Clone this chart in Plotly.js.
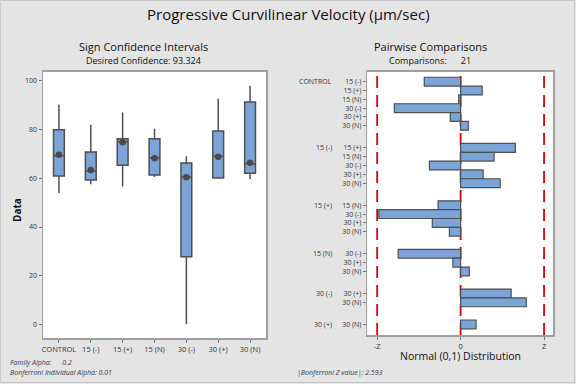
<!DOCTYPE html>
<html>
<head>
<meta charset="utf-8">
<script src="https://cdn.plot.ly/plotly-3.0.1.min.js"></script>
<style>
html,body{margin:0;padding:0;background:#e4e4e4;}
#chart{width:576px;height:384px;}
</style>
</head>
<body>
<div id="chart"></div>
<script>
// ---- Left panel: sign confidence intervals ----
const groups = ["CONTROL", "15 (-)", "15 (+)", "15 (N)", "30 (-)", "30 (+)", "30 (N)"];
const whiskerLow  = [53.9, 57.6, 56.6, 60.5, 0.0, 60.1, 59.7];
const ciLow       = [61.0, 59.3, 65.4, 61.4, 27.8, 60.1, 62.1];
const medianLine  = [69.3, 63.0, 75.0, 68.4, 60.5, 69.1, 66.0];
const ciHigh      = [80.0, 70.8, 76.3, 76.3, 66.3, 79.4, 91.4];
const whiskerHigh = [90.2, 82.0, 87.0, 80.4, 69.1, 92.7, 98.0];
const centerDot   = [69.7, 63.4, 74.8, 68.2, 60.4, 68.9, 66.4];

// ---- Right panel: pairwise comparisons ----
const pairGroups = ["CONTROL", "15 (-)", "15 (+)", "15 (N)", "30 (-)", "30 (+)"];
const pairTargets = [
  ["15 (-)", "15 (+)", "15 (N)", "30 (-)", "30 (+)", "30 (N)"],
  ["15 (+)", "15 (N)", "30 (-)", "30 (+)", "30 (N)"],
  ["15 (N)", "30 (-)", "30 (+)", "30 (N)"],
  ["30 (-)", "30 (+)", "30 (N)"],
  ["30 (+)", "30 (N)"],
  ["30 (N)"]
];
const pairValues = [
  [-1.13, 0.67, -0.06, -2.06, -0.32, 0.24],
  [1.70, 1.04, -0.97, 0.70, 1.23],
  [-0.70, -2.54, -0.88, -0.35],
  [-1.94, -0.24, 0.27],
  [1.57, 2.04],
  [0.48]
];
const zValue = 2.593;

// Build row positions from group structure
const rowPos = [], rowLabel = [], rowVal = [], groupPos = [];
let p = 0;
pairGroups.forEach((g, gi) => {
  groupPos.push(p);
  pairTargets[gi].forEach((t, ti) => {
    rowPos.push(p); rowLabel.push(t); rowVal.push(pairValues[gi][ti]);
    p += 1;
  });
  p += 1.5;
});

const lineCol = "#4f4f4f";
const fillCol = "#7ba5d9";
const txtCol = "#333333";
const font = "Open Sans, Noto Sans, sans-serif";

const traces = [
  {
    type: "box", x: groups, xaxis: "x", yaxis: "y",
    q1: ciLow, median: medianLine, q3: ciHigh,
    lowerfence: whiskerLow, upperfence: whiskerHigh,
    width: 0.34, whiskerwidth: 0, boxpoints: false,
    fillcolor: fillCol, line: {color: lineCol, width: 1.5},
    hoverinfo: "skip", showlegend: false
  },
  {
    type: "scatter", mode: "markers", x: groups, y: centerDot,
    xaxis: "x", yaxis: "y",
    marker: {color: "#4a4a4a", size: 6.5},
    hoverinfo: "skip", showlegend: false
  },
  {
    type: "bar", orientation: "h", x: rowVal, y: rowPos,
    xaxis: "x2", yaxis: "y2", width: 1, base: 0,
    marker: {color: fillCol, line: {color: lineCol, width: 1.2}},
    hoverinfo: "skip", showlegend: false
  }
];

const W = 576, H = 384;
const shapes = [
  {type: "rect", xref: "paper", yref: "paper", x0: 0.5/W, x1: 574.5/W, y0: 1 - 382.5/H, y1: 1 - 0.5/H,
   line: {color: "#c8c8c8", width: 1}, fillcolor: "rgba(0,0,0,0)", layer: "below"}
];
[-zValue, 0, zValue].forEach(v => shapes.push({
  type: "line", xref: "x2", yref: "y2 domain", x0: v, x1: v, y0: 0, y1: 1,
  line: {color: "#d40000", width: 1.8, dash: "12px,7px"}, layer: "below"
}));

function ann(text, px, py, size, opts) {
  return Object.assign({
    text: text, xref: "paper", yref: "paper", x: px / W, y: 1 - py / H,
    xanchor: "center", yanchor: "middle", showarrow: false, borderpad: 0,
    font: {size: size, color: "#111", family: font}
  }, opts || {});
}

const annotations = [
  ann("Progressive Curvilinear Velocity (µm/sec)", 288, 14, 15),
  ann("Sign Confidence Intervals", 143, 46.5, 11),
  ann("Desired Confidence: 93.324", 143, 60, 9),
  ann("Pairwise Comparisons", 430, 46.5, 11),
  ann("Comparisons:      21", 430, 60, 9),
  ann("Normal (0,1) Distribution", 460.7, 356, 10.5),
  ann("Data", 17, 210, 10, {textangle: -90, font: {size: 10, color: "#111", family: font, weight: "bold"}}),
  ann("<i>Family Alpha:      0.2</i>", 9, 362, 7, {xanchor: "left", font: {size: 7, color: "#3a3a55", family: font}}),
  ann("<i>Bonferroni Individual Alpha: 0.01</i>", 9, 372.5, 7, {xanchor: "left", font: {size: 7, color: "#3a3a55", family: font}}),
  ann("<i>|Bonferroni Z value|: 2.593</i>", 296, 372.5, 7, {xanchor: "left", font: {size: 7, color: "#3a3a55", family: font}})
];
pairGroups.forEach((g, gi) => annotations.push({
  text: g, xref: "paper", yref: "y2", x: 334/W, y: groupPos[gi], xanchor: "right", yanchor: "middle",
  showarrow: false, font: {size: 7, color: txtCol, family: font}
}));

const axStyle = {
  showgrid: false, zeroline: false, showline: true, mirror: true,
  linecolor: "#a0a0a0", linewidth: 1.5, ticks: "outside", ticklen: 3,
  tickcolor: "#777", tickfont: {size: 7, color: txtCol, family: font}
};

const layout = {
  width: W, height: H,
  margin: {l: 0, r: 0, t: 0, b: 0},
  paper_bgcolor: "#e4e4e4", plot_bgcolor: "#ffffff",
  showlegend: false,
  xaxis: Object.assign({}, axStyle, {
    domain: [43/W, 266/W], anchor: "y", type: "category",
    range: [-0.5, 6.5], tickfont: {size: 7.5, color: txtCol, family: font}
  }),
  yaxis: Object.assign({}, axStyle, {
    domain: [1 - 338/H, 1 - 71.7/H], anchor: "x",
    range: [-5.6, 103.8], tickvals: [0, 20, 40, 60, 80, 100]
  }),
  xaxis2: Object.assign({}, axStyle, {
    domain: [367.3/W, 553.3/W], anchor: "y2",
    range: [-2.9, 2.88], tickvals: [-zValue, 0, zValue], ticktext: ["-Z", "0", "Z"],
    tickfont: {size: 7.5, color: txtCol, family: font}
  }),
  yaxis2: Object.assign({}, axStyle, {
    domain: [1 - 335/H, 1 - 71.7/H], anchor: "x2",
    range: [rowPos[rowPos.length - 1] + 1.2, -1.13],
    tickvals: rowPos, ticktext: rowLabel
  }),
  shapes: shapes,
  annotations: annotations
};

Plotly.newPlot("chart", traces, layout, {staticPlot: true, displayModeBar: false});
</script>
</body>
</html>
